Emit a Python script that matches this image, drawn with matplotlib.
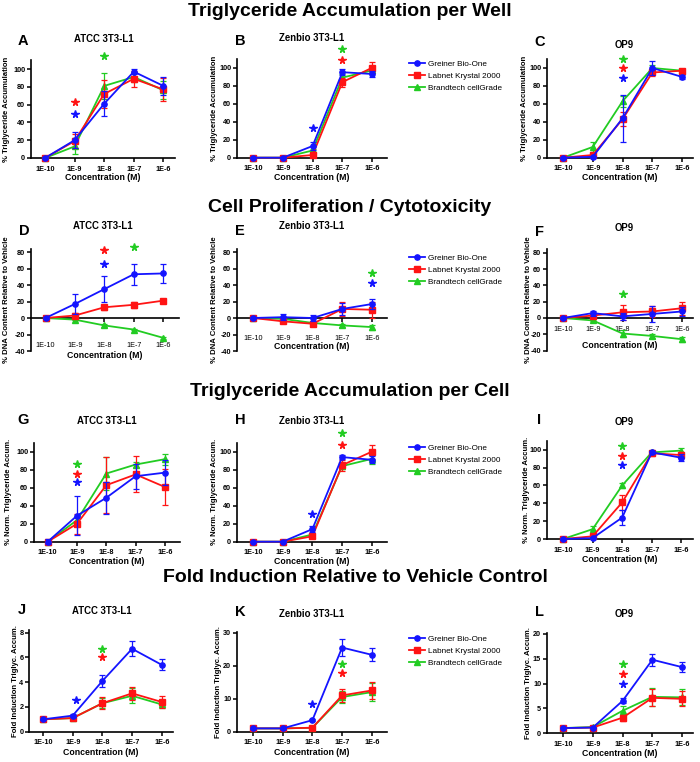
import matplotlib
matplotlib.use('Agg')
import matplotlib.pyplot as plt
from matplotlib.lines import Line2D

plt.rcParams['font.family'] = ['Liberation Sans', 'DejaVu Sans']

W, H = 700, 762

conc_labels = ['1E-10', '1E-9', '1E-8', '1E-7', '1E-6']
series_names = ['Greiner Bio-One', 'Labnet Krystal 2000', 'Brandtech cellGrade']
series_colors = ['#1414ff', '#ff1414', '#22cc22']
series_markers = ['o', 's', '^']

# order of series in each list: Greiner (blue), Labnet (red), Brandtech (green)
# stars: (series index, concentration index, y value)
A_mean = [[0, 20, 61, 97, 81], [0, 19, 72, 89, 77], [0, 13, 81, 91, 76]]
A_err = [[1, 9, 14, 3, 10], [2, 8, 16, 9, 13], [1, 9, 15, 6, 10]]
A_stars = [(1, 1, 63), (0, 1, 50), (2, 2, 115)]

B_mean = [[0, 0, 13, 95, 93], [0, 0, 3, 84, 100], [0, 0, 8, 89, 97]]
B_err = [[0.5, 0.5, 4, 3, 3], [0.5, 0.5, 2, 5, 6], [0.5, 0.5, 2, 4, 3]]
B_stars = [(0, 2, 33), (1, 3, 108), (2, 3, 121)]

C_mean = [[0, 1, 44, 100, 90], [0, 3, 43, 95, 97], [0, 12, 63, 100, 97]]
C_err = [[1, 1, 26, 8, 2], [1, 1, 8, 4, 2], [1, 6, 6, 3, 2]]
C_stars = [(2, 2, 110), (1, 2, 100), (0, 2, 89)]

D_mean = [[0, 17, 35, 53, 54], [0, 3, 13, 16, 21], [0, -2, -9, -14, -24]]
D_err = [[1, 12, 16, 13, 11], [1, 3, 3, 4, 2], [1, 1, 2, 1, 1]]
D_stars = [(1, 2, 82), (0, 2, 66), (2, 3, 86)]

E_mean = [[0, 1, 0, 11, 17], [0, -4, -7, 11, 10], [0, -1, -6, -9, -11]]
E_err = [[1, 4, 4, 7, 6], [1, 1, 3, 8, 10], [1, 1, 1, 2, 3]]
E_stars = [(2, 4, 55), (0, 4, 43)]

F_mean = [[0, 6, 2, 5, 8], [0, 3, 7, 8, 12], [0, -3, -19, -22, -26]]
F_err = [[1, 3, 4, 10, 5], [1, 2, 9, 7, 8], [1, 1, 4, 3, 3]]
F_stars = [(2, 2, 29)]

G_mean = [[0, 29, 49, 73, 77], [0, 20, 63, 75, 61], [0, 24, 76, 86, 92]]
G_err = [[3, 22, 18, 14, 14], [1, 11, 31, 20, 20], [1, 4, 18, 3, 6]]
G_stars = [(2, 1, 87), (1, 1, 76), (0, 1, 66)]

H_mean = [[0, 0, 14, 94, 91], [0, 0, 6, 85, 100], [0, 0, 8, 84, 92]]
H_err = [[0.5, 0.5, 3, 2, 4], [0.5, 0.5, 1, 6, 8], [0.5, 0.5, 2, 3, 6]]
H_stars = [(0, 2, 31), (1, 3, 108), (2, 3, 121)]

I_mean = [[0, 1, 24, 97, 91], [0, 3, 41, 96, 94], [0, 11, 60, 97, 99]]
I_err = [[1, 1, 8, 2, 4], [1, 1, 8, 3, 3], [1, 4, 3, 2, 3]]
I_stars = [(2, 2, 104), (1, 2, 93), (0, 2, 83)]

J_mean = [[1, 1.3, 4.1, 6.7, 5.4], [1, 1.1, 2.3, 3.1, 2.4], [1, 1.1, 2.3, 2.9, 2.2]]
J_err = [[0.05, 0.1, 0.5, 0.6, 0.45], [0.05, 0.1, 0.5, 0.5, 0.45], [0.05, 0.1, 0.4, 0.6, 0.3]]
J_stars = [(0, 1.1, 2.6), (2, 2, 6.7), (1, 2, 6.0)]

K_mean = [[1, 1, 3.5, 25.5, 23.3], [1, 1, 1.2, 11, 12.5], [1, 1, 1.2, 10.5, 12]]
K_err = [[0.1, 0.1, 0.3, 2.5, 2], [0.1, 0.1, 0.2, 2, 2.5], [0.1, 0.1, 0.2, 1.8, 2.7]]
K_stars = [(0, 2, 8.5), (2, 3, 20.6), (1, 3, 17.7)]

L_mean = [[1, 1.1, 6.5, 14.8, 13.3], [1, 1.1, 3.1, 7.1, 6.9], [1, 1.2, 4.5, 7.3, 7.2]]
L_err = [[0.05, 0.1, 0.5, 1.2, 1.0], [0.05, 0.1, 0.6, 1.7, 1.5], [0.05, 0.1, 1.0, 1.8, 1.6]]
L_stars = [(2, 2, 13.9), (1, 2, 11.9), (0, 2, 10)]

row_titles = ['Triglyceride Accumulation per Well', 'Cell Proliferation / Cytotoxicity',
              'Triglyceride Accumulation per Cell', 'Fold Induction Relative to Vehicle Control']
col_titles = ['ATCC 3T3-L1', 'Zenbio 3T3-L1', 'OP9']
row_ylabels = ['% Triglyceride Accumulation', '% DNA Content Relative to Vehicle',
               '% Norm. Triglyceride Accum.', 'Fold Induction Triglyc. Accum.']
xlabel = 'Concentration (M)'

fig = plt.figure(figsize=(W / 100, H / 100), dpi=100)


def ftext(x, y, s, **kw):
    fig.text(x / W, 1 - y / H, s, **kw)


panels = [
    ('A', A_mean, A_err, A_stars, 0, 0, dict(sx=31, rx=175, x0=45, st=29.6, yz=158, rv=100, rp=69, yl=(0, 110), yt=[0, 20, 40, 60, 80, 100], t=(104, 39), l=(23, 41), xly=177, ylx=7)),
    ('B', B_mean, B_err, B_stars, 0, 1, dict(sx=237, rx=387, x0=253, st=29.8, yz=157.7, rv=100, rp=67.7, yl=(0, 110), yt=[0, 20, 40, 60, 80, 100], t=(312, 38), l=(240, 41), xly=177.7, ylx=214)),
    ('C', C_mean, C_err, C_stars, 0, 2, dict(sx=547, rx=693, x0=563, st=29.8, yz=157.7, rv=100, rp=68, yl=(0, 110), yt=[0, 20, 40, 60, 80, 100], t=(624, 45), l=(540, 42), xly=178, ylx=525)),
    ('D', D_mean, D_err, D_stars, 1, 0, dict(sx=31, rx=179, x0=45.5, st=29.4, yz=318, rv=80, rp=252, yl=(-40, 84), yt=[-40, -20, 0, 20, 40, 60, 80], t=(103, 226), l=(24, 231), xly=355, ylx=7, pad=14)),
    ('E', E_mean, E_err, E_stars, 1, 1, dict(sx=237, rx=387, x0=253, st=29.8, yz=318, rv=80, rp=252, yl=(-40, 84), yt=[-40, -20, 0, 20, 40, 60, 80], t=(312, 226), l=(240, 231), xly=347, ylx=214, pad=9)),
    ('F', F_mean, F_err, F_stars, 1, 2, dict(sx=547, rx=693, x0=563, st=29.8, yz=318, rv=80, rp=252.7, yl=(-40, 84), yt=[-40, -20, 0, 20, 40, 60, 80], t=(624, 228), l=(540, 232), xly=345, ylx=528, pad=3)),
    ('G', G_mean, G_err, G_stars, 2, 0, dict(sx=34, rx=180, x0=47.7, st=29.3, yz=541.7, rv=100, rp=452, yl=(0, 110), yt=[0, 20, 40, 60, 80, 100], t=(107, 421), l=(23, 420), xly=562, ylx=9)),
    ('H', H_mean, H_err, H_stars, 2, 1, dict(sx=237, rx=387, x0=253, st=29.7, yz=541.7, rv=100, rp=451.7, yl=(0, 110), yt=[0, 20, 40, 60, 80, 100], t=(312, 421), l=(240, 420), xly=561.7, ylx=214)),
    ('I', I_mean, I_err, I_stars, 2, 2, dict(sx=547, rx=693, x0=563, st=29.6, yz=539, rv=100, rp=449.7, yl=(0, 110), yt=[0, 20, 40, 60, 80, 100], t=(624, 422), l=(539, 420), xly=560, ylx=527)),
    ('J', J_mean, J_err, J_stars, 3, 0, dict(sx=29.3, rx=173, x0=43, st=29.7, yz=731.7, rv=8, rp=632.7, yl=(0, 8.2), yt=[0, 2, 4, 6, 8], t=(102, 611), l=(22, 610), xly=752.7, ylx=16)),
    ('K', K_mean, K_err, K_stars, 3, 1, dict(sx=237, rx=387, x0=253, st=29.7, yz=731.7, rv=30, rp=632.7, yl=(0, 30.3), yt=[0, 10, 20, 30], t=(312, 614), l=(240, 612), xly=752.7, ylx=219)),
    ('L', L_mean, L_err, L_stars, 3, 2, dict(sx=547, rx=693, x0=563, st=29.8, yz=733, rv=20, rp=634, yl=(0, 20.3), yt=[0, 5, 10, 15, 20], t=(624, 614), l=(540, 612), xly=754, ylx=529)),
]

legend_tops = [60, 254, 444, 635]

for letter, means, errs, stars, row, col, g in panels:
    scale = (g['yz'] - g['rp']) / g['rv']
    bottom = g['yz'] - g['yl'][0] * scale
    top = g['yz'] - g['yl'][1] * scale
    rect = [g['sx'] / W, 1 - bottom / H, (g['rx'] - g['sx']) / W, (bottom - top) / H]
    ax = fig.add_axes(rect)
    ax.set_xlim((g['sx'] - g['x0']) / g['st'], (g['rx'] - g['x0']) / g['st'])
    ax.set_ylim(*g['yl'])
    xs = list(range(len(conc_labels)))
    for i in [2, 1, 0]:
        ax.errorbar(xs, means[i], yerr=errs[i], color=series_colors[i], marker=series_markers[i],
                    markersize=3.8 if i != 2 else 4.2, lw=1.3, elinewidth=0.9, capsize=2.4,
                    capthick=0.9, clip_on=False, zorder=3 + (2 - i), label=series_names[i])
    for si, xi, yv in stars:
        ax.plot([xi], [yv], marker='*', markersize=5.5, color=series_colors[si],
                linestyle='none', clip_on=False, zorder=10)
    for s in ['top', 'right']:
        ax.spines[s].set_visible(False)
    for s in ['left', 'bottom']:
        ax.spines[s].set_linewidth(1.2)
    ax.set_xticks(xs)
    ax.set_xticklabels(conc_labels)
    ax.set_yticks(g['yt'])
    ax.set_yticklabels([str(v) for v in g['yt']])
    ax.tick_params(axis='both', direction='out', length=3, width=1.1, labelsize=5.2)
    for lab in ax.get_xticklabels() + ax.get_yticklabels():
        lab.set_fontweight('bold')
    ax.tick_params(axis='y', pad=1.2)
    if row == 1:
        ax.spines['bottom'].set_position(('data', 0))
        ax.tick_params(axis='x', pad=g['pad'])
    else:
        ax.tick_params(axis='x', pad=2.5)
    ax.set_xlabel(xlabel, fontsize=6.3, fontweight='bold')
    ax.xaxis.set_label_coords(0.5 * (g['sx'] + g['rx']) / W, 1 - g['xly'] / H, transform=fig.transFigure)
    ax.xaxis.label.set_va('center')
    ax.set_ylabel(row_ylabels[row], fontsize=5.6, fontweight='bold')
    ax.yaxis.set_label_coords(g['ylx'] / W, 1 - 0.5 * (top + bottom) / H, transform=fig.transFigure)
    ax.yaxis.label.set_va('center')
    ftext(g['t'][0], g['t'][1], col_titles[col], fontsize=6.9, fontweight='bold', ha='center', va='center')
    ftext(g['l'][0], g['l'][1], letter, fontsize=10.5, fontweight='bold', ha='center', va='center')
    if col == 1:
        handles = [Line2D([0], [0], color=series_colors[i], marker=series_markers[i], markersize=3.8, lw=1.3)
                   for i in range(3)]
        ax.legend(handles, series_names, loc='upper left',
                  bbox_to_anchor=(409 / W, 1 - legend_tops[row] / H), bbox_transform=fig.transFigure,
                  frameon=False, fontsize=5.9, borderpad=0, borderaxespad=0, labelspacing=0.55,
                  handlelength=1.9, handletextpad=0.4)

row_title_pos = [(350, 12), (350, 207), (350, 391), (355, 578)]
for t, (x, y) in zip(row_titles, row_title_pos):
    ftext(x, y, t, fontsize=14, fontweight='bold', ha='center', va='center')

fig.savefig('out.png', dpi=100)
